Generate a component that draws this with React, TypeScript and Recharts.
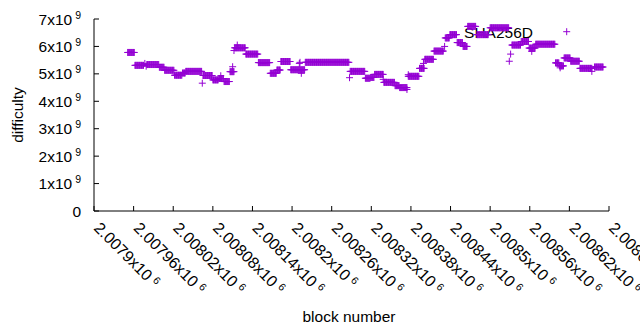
import React from 'react';
import { ScatterChart, Scatter, XAxis, YAxis, Legend } from 'recharts';

const PURPLE = '#9400d3';
const FONT = '"Liberation Sans", Arial, sans-serif';
const FS = 15.5;
const XFS = 16;

// runs of consecutive blocks with a constant difficulty
const runFirstBlock = [
  2007951, 2007962, 2007980, 2007999, 2008007, 2008022, 2008034, 2008039, 2008065, 2008080,
  2008089, 2008097, 2008106, 2008113, 2008130, 2008149, 2008167, 2008177, 2008183, 2008198,
  2008220, 2008288, 2008311, 2008319, 2008325, 2008339, 2008356, 2008363, 2008376, 2008393,
  2008401, 2008415, 2008432, 2008439, 2008450, 2008459, 2008466, 2008480, 2008500, 2008533,
  2008547, 2008559, 2008569, 2008599, 2008605, 2008612, 2008622, 2008636, 2008658,
];
const runLastBlock = [
  2007961, 2007975, 2007998, 2008006, 2008021, 2008033, 2008038, 2008063, 2008079, 2008088,
  2008096, 2008105, 2008112, 2008129, 2008148, 2008166, 2008176, 2008182, 2008197, 2008219,
  2008286, 2008310, 2008318, 2008324, 2008338, 2008355, 2008362, 2008374, 2008392, 2008400,
  2008414, 2008429, 2008438, 2008449, 2008458, 2008465, 2008478, 2008497, 2008528, 2008546,
  2008558, 2008568, 2008598, 2008604, 2008611, 2008621, 2008635, 2008654, 2008671,
];
const runDifficulty = [
  5.78e9, 5.31e9, 5.34e9, 5.24e9, 5.13e9, 4.95e9, 5.03e9, 5.09e9, 4.94e9, 4.78e9,
  4.83e9, 4.72e9, 5.08e9, 5.95e9, 5.72e9, 5.41e9, 5.02e9, 5.14e9, 5.45e9, 5.15e9,
  5.42e9, 5.09e9, 4.84e9, 4.87e9, 4.98e9, 4.69e9, 4.57e9, 4.50e9, 4.91e9, 5.20e9,
  5.53e9, 5.83e9, 6.31e9, 6.43e9, 6.14e9, 6.00e9, 6.73e9, 6.43e9, 6.68e9, 6.05e9,
  6.18e9, 5.94e9, 6.08e9, 5.40e9, 5.29e9, 5.58e9, 5.46e9, 5.20e9, 5.25e9,
];

// isolated blocks
const singleBlock = [
  2007977, 2007979, 2008064, 2008092, 2008110, 2008112, 2008117, 2008211, 2008212, 2008214,
  2008287, 2008338, 2008374, 2008376, 2008399, 2008431, 2008529, 2008531, 2008563, 2008606,
  2008654,
];
const singleDifficulty = [
  5.38e9, 5.28e9, 4.66e9, 4.93e9, 5.26e9, 5.85e9, 6.05e9, 5.38e9, 5.42e9, 5.02e9,
  4.86e9, 4.80e9, 4.43e9, 4.97e9, 5.38e9, 6.00e9, 5.46e9, 5.72e9, 5.82e9, 5.22e9,
  5.09e9,
];

const xTickValues = [
  2007900, 2007960, 2008020, 2008080, 2008140, 2008200, 2008260,
  2008320, 2008380, 2008440, 2008500, 2008560, 2008620, 2008680,
];
const xTickLabels = [
  '2.0079x10^6', '2.00796x10^6', '2.00802x10^6', '2.00808x10^6', '2.00814x10^6',
  '2.0082x10^6', '2.00826x10^6', '2.00832x10^6', '2.00838x10^6', '2.00844x10^6',
  '2.0085x10^6', '2.00856x10^6', '2.00862x10^6', '2.00868x10^6',
];
const yTickValues = [0, 1e9, 2e9, 3e9, 4e9, 5e9, 6e9, 7e9];
const yTickLabels = ['0', '1x10^9', '2x10^9', '3x10^9', '4x10^9', '5x10^9', '6x10^9', '7x10^9'];

const seriesName = 'SHA256D';
const xTitle = 'block number';
const yTitle = 'difficulty';

type Pt = { block: number; difficulty: number };
const points: Pt[] = [];
runFirstBlock.forEach((first, i) => {
  for (let b = first; b <= runLastBlock[i]; b++) {
    points.push({ block: b, difficulty: runDifficulty[i] });
  }
});
singleBlock.forEach((b, i) => points.push({ block: b, difficulty: singleDifficulty[i] }));

const TICK = 5;

const labelParts = (s: string, dx: number, dy: number) => {
  const [base, sup] = s.split('^');
  return (
    <>
      {base}
      {sup !== undefined && (
        <tspan dx={dx} dy={dy} fontSize={10.5}>
          {sup}
        </tspan>
      )}
    </>
  );
};

const BottomTick = (props: any) => {
  const { x, y, index } = props;
  return (
    <g>
      <line x1={x} y1={y} x2={x} y2={y - TICK} stroke="#000" />
      <g transform={`translate(${x + 3},${y + 14}) rotate(45)`}>
        <text x={0} y={5.6} textAnchor="start" fontSize={XFS} fontFamily={FONT} fill="#000">
          {labelParts(xTickLabels[index], 4, -5)}
        </text>
      </g>
    </g>
  );
};
const TopTick = (props: any) => {
  const { x, y } = props;
  return <line x1={x} y1={y} x2={x} y2={y + TICK} stroke="#000" />;
};
const LeftTick = (props: any) => {
  const { x, y, index } = props;
  return (
    <g>
      <line x1={x} y1={y} x2={x + TICK} y2={y} stroke="#000" />
      <text x={x - 13} y={y + 5.5} textAnchor="end" fontSize={FS} fontFamily={FONT} fill="#000">
        {labelParts(yTickLabels[index], 3, -6)}
      </text>
    </g>
  );
};
const RightTick = (props: any) => {
  const { x, y } = props;
  return <line x1={x} y1={y} x2={x - TICK} y2={y} stroke="#000" />;
};

const PlusShape = (props: any) => {
  const { cx, cy } = props;
  if (cx == null || cy == null) return null;
  return (
    <path
      d={`M${cx - 3.5},${cy}H${cx + 3.5}M${cx},${cy - 3.5}V${cy + 3.5}`}
      stroke={PURPLE}
      strokeWidth={1}
      fill="none"
    />
  );
};

const LegendContent = () => (
  <svg width={200} height={30} style={{ display: 'block', overflow: 'visible' }}>
    <text x={93} y={20.5} textAnchor="end" fontSize={FS} fontFamily={FONT} fill="#000">
      {seriesName}
    </text>
    <path d={`M${123.2},${14.7}H${130.2}M${126.7},${11.2}V${18.2}`} stroke={PURPLE} strokeWidth={1} />
  </svg>
);

export default function App() {
  return (
    <div
      style={{
        position: 'absolute',
        left: 0,
        top: 0,
        width: 640,
        height: 330,
        background: '#fff',
        zIndex: 0,
      }}
    >
      <ScatterChart width={640} height={330} margin={{ top: 19, right: 31, bottom: 0, left: 0 }}>
        <XAxis
          xAxisId="b"
          dataKey="block"
          type="number"
          domain={[2007900, 2008680]}
          ticks={xTickValues}
          interval={0}
          height={119}
          tickSize={0}
          tickMargin={0}
          tickLine={false}
          axisLine={{ stroke: '#000' }}
          tick={<BottomTick />}
          allowDataOverflow
          label={{
            content: (p: any) => {
              const vb = p.viewBox || { x: 94, y: 211 };
              return (
                <text x={349} y={vb.y + 110.5} textAnchor="middle" fontSize={FS} fontFamily={FONT} fill="#000">
                  {xTitle}
                </text>
              );
            },
          }}
        />
        <XAxis
          xAxisId="t"
          orientation="top"
          dataKey="block"
          type="number"
          domain={[2007900, 2008680]}
          ticks={xTickValues}
          interval={0}
          height={0}
          tickSize={0}
          tickMargin={0}
          tickLine={false}
          axisLine={{ stroke: '#000' }}
          tick={<TopTick />}
          allowDataOverflow
        />
        <YAxis
          yAxisId="l"
          dataKey="difficulty"
          type="number"
          domain={[0, 7e9]}
          ticks={yTickValues}
          interval={0}
          width={94}
          tickSize={0}
          tickMargin={0}
          tickLine={false}
          axisLine={{ stroke: '#000' }}
          tick={<LeftTick />}
          allowDataOverflow
          label={{
            content: () => (
              <text
                x={17}
                y={115}
                transform="rotate(-90 17 115)"
                textAnchor="middle"
                dominantBaseline="central"
                fontSize={FS}
                fontFamily={FONT}
                fill="#000"
              >
                {yTitle}
              </text>
            ),
          }}
        />
        <YAxis
          yAxisId="r"
          orientation="right"
          dataKey="difficulty"
          type="number"
          domain={[0, 7e9]}
          ticks={yTickValues}
          interval={0}
          width={0}
          tickSize={0}
          tickMargin={0}
          tickLine={false}
          axisLine={{ stroke: '#000' }}
          tick={<RightTick />}
          allowDataOverflow
        />
        <Legend
          layout="horizontal"
          verticalAlign="middle"
          align="center"
          wrapperStyle={{ left: 440, top: 17, width: 200, height: 30, zIndex: -1 }}
          content={<LegendContent />}
        />
        <Scatter
          name={seriesName}
          data={points}
          xAxisId="b"
          yAxisId="l"
          shape={<PlusShape />}
          isAnimationActive={false}
        />
      </ScatterChart>
    </div>
  );
}
